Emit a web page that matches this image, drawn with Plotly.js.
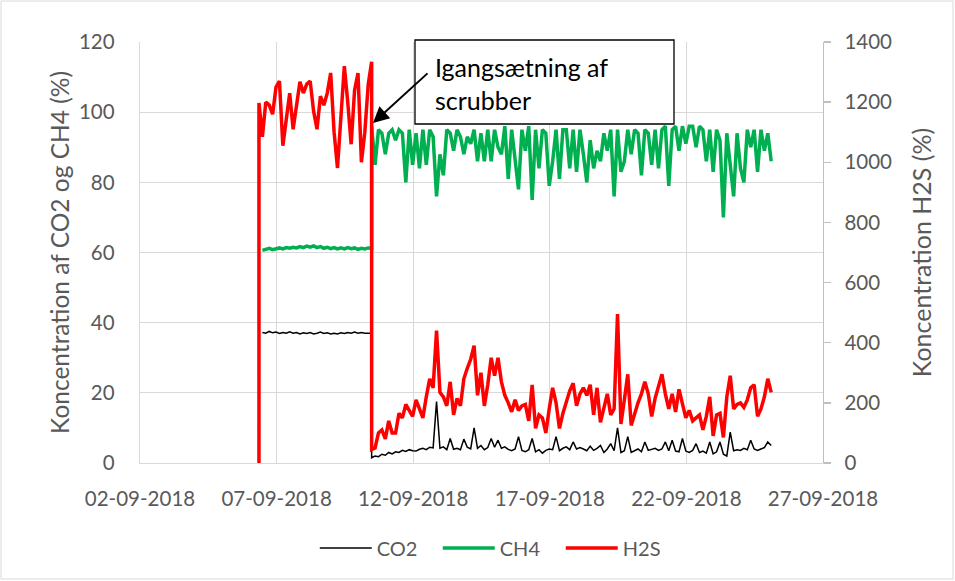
<!DOCTYPE html>
<html>
<head>
<meta charset="utf-8">
<script src="https://cdn.plot.ly/plotly-3.0.1.min.js"></script>
<style>html,body{margin:0;padding:0;background:#fff;}#chart{width:955px;height:581px;}</style>
</head>
<body>
<div id="chart"></div>
<script>
// ---- Data ----
const seriesNames = ["CO2", "CH4", "H2S"];
const xTickStart = "2018-09-02";
const xRange = ["2018-09-02", "2018-09-27"];

// Phase 1 (before scrubber start), 3-hour steps
const h2sStart1 = "2018-09-06 08:30";
const gasStart1 = "2018-09-06 11:30";
const h2sPhase1 = [1197,1085,1200,1190,1160,1250,1270,1055,1150,1230,1110,1200,1268,1230,1260,1270,1170,1110,1220,1190,1230,1297,1100,981,1150,1320,1200,1060,1240,1297,1000,1100,1260,1334];
const ch4Phase1 = [60.6,60.9,61.2,60.8,61.0,61.3,61.0,61.4,61.2,61.5,61.3,61.7,61.4,61.8,61.5,61.9,61.4,61.7,61.2,61.5,61.1,61.4,61.0,61.3,61.0,61.4,61.1,61.3,60.9,61.2,61.0,61.3,61.2];
const co2Phase1 = [37.2,37.0,37.5,37.1,37.3,36.9,37.2,37.0,37.4,37.0,37.2,36.8,37.1,36.9,37.2,36.8,37.0,37.3,36.9,37.1,36.8,37.0,36.8,37.1,36.9,37.2,37.0,37.3,37.0,37.2,37.0,37.1,37.0];

// Phase 2 (after scrubber start), 3-hour steps
const start2 = "2018-09-10 11:30";
const h2sPhase2 = [45,50,100,110,80,140,100,100,165,150,
  195,175,155,210,180,150,220,280,250,440,
  235,220,190,270,160,215,190,280,315,345,
  390,225,300,190,260,350,290,350,270,225,
  200,170,210,175,190,195,140,260,115,160,
  150,100,180,250,200,115,165,205,240,265,
  190,230,250,225,260,160,250,135,180,230,
  160,180,495,130,210,295,125,165,200,230,
  270,230,155,215,260,295,230,180,230,170,
  245,200,150,175,140,150,160,110,155,220,
  90,160,165,85,220,290,180,195,200,185,
  210,250,260,155,180,220,280,235];
const ch4Phase2 = [96,85,95,94,88,94,95,92,95,94,
  80,95,85,94,84,95,85,95,93,76,
  88,82,95,94,89,95,93,88,93,91,
  95,86,94,86,95,86,95,90,88,96,
  81,95,87,78,95,89,96,75,95,84,
  95,94,79,86,95,81,95,95,84,95,
  83,95,88,80,92,84,89,86,94,89,
  95,76,95,83,86,95,88,95,94,82,
  95,94,85,95,84,95,96,79,95,96,
  89,96,91,96,96,90,96,95,86,95,
  83,95,92,70,94,84,76,94,84,80,
  95,90,95,83,95,89,94,86];
const co2Phase2 = [1.5,2.0,1.8,2.5,2.2,3.0,2.6,3.2,3.0,3.6,
  3.3,3.8,3.5,3.4,3.9,4.2,3.8,4.5,4.3,17.5,
  4.2,4.6,3.8,7.0,3.9,4.2,3.8,6.8,4.5,4.0,
  10.0,4.2,5.0,3.8,4.4,7.0,4.5,6.5,4.2,4.6,
  3.9,3.5,4.0,7.5,3.6,3.2,3.8,7.0,3.2,3.8,
  2.8,3.6,4.0,3.8,7.5,3.5,4.2,4.6,3.8,6.0,
  4.0,4.4,4.0,3.5,4.8,3.6,4.2,5.0,3.0,4.0,
  5.5,3.5,10.0,3.0,3.5,7.5,3.0,3.5,4.0,3.2,
  6.0,3.6,3.8,4.2,3.6,4.0,6.0,3.5,6.5,3.4,
  3.2,7.0,3.4,3.0,3.6,5.5,3.0,3.4,2.8,6.0,
  2.6,3.2,6.0,2.5,2.0,8.8,3.5,3.8,3.6,4.2,
  3.8,6.5,4.0,3.6,4.0,4.4,6.0,5.0];

const stepHours = 3;
const annotationText = "Igangsætning af<br>scrubber";
const leftTitle = "Koncentration af CO2 og CH4 (%)";
const rightTitle = "Koncentration H2S (%)";

// ---- helpers ----
function pad(n){return (n<10?"0":"")+n;}
function times(start, step, n){
  const [d,t] = start.split(" ");
  const [Y,M,D] = d.split("-").map(Number);
  const [h,m] = t.split(":").map(Number);
  const base = Date.UTC(Y,M-1,D,h,m);
  const out = [];
  for(let i=0;i<n;i++){
    const dt = new Date(base + i*step*3600000);
    out.push(dt.getUTCFullYear()+"-"+pad(dt.getUTCMonth()+1)+"-"+pad(dt.getUTCDate())+" "+pad(dt.getUTCHours())+":"+pad(dt.getUTCMinutes()));
  }
  return out;
}

const t2 = times(start2, stepHours, h2sPhase2.length);
const tGas1 = times(gasStart1, stepHours, co2Phase1.length);
const tH2s1 = times(h2sStart1, stepHours, h2sPhase1.length);

const FONT = "Lato, 'Open Sans', sans-serif";
const GRAY = "#595959";

const traces = [
  {name: seriesNames[0], x: tGas1.concat(t2), y: co2Phase1.concat(co2Phase2), type:"scatter", mode:"lines",
   line:{color:"#000000", width:1.5}, yaxis:"y"},
  {name: seriesNames[1], x: tGas1.concat(t2), y: ch4Phase1.concat(ch4Phase2), type:"scatter", mode:"lines",
   line:{color:"#00B050", width:3.5}, yaxis:"y"},
  {name: seriesNames[2], x: [tH2s1[0]].concat(tH2s1, t2), y: [0].concat(h2sPhase1, h2sPhase2), type:"scatter", mode:"lines",
   line:{color:"#FF0000", width:3.5}, yaxis:"y2"}
];

const layout = {
  width:955, height:581,
  margin:{l:140, r:132, t:42, b:118},
  paper_bgcolor:"#ffffff", plot_bgcolor:"#ffffff",
  font:{family:FONT, size:20, color:GRAY},
  showlegend:true,
  legend:{orientation:"h", x:0.526, xanchor:"center", y:-0.202, yanchor:"middle",
          font:{family:FONT, size:20, color:GRAY}, itemwidth:52, entrywidth:56, traceorder:"normal"},
  xaxis:{type:"date", range:xRange, tick0:xTickStart, dtick:5*86400000, tickformat:"%d-%m-%Y",
         showgrid:true, gridcolor:"#D9D9D9", gridwidth:1.3, showline:true, linecolor:"#D9D9D9", linewidth:1.3,
         zeroline:false, ticks:"", ticklabelstandoff:17, tickfont:{family:FONT, size:20.5, color:GRAY}},
  yaxis:{range:[0,120], dtick:20, showgrid:true, gridcolor:"#D9D9D9", gridwidth:1.3, showline:true,
         linecolor:"#D9D9D9", linewidth:1.3, zeroline:false, ticks:"", ticklabelstandoff:20,
         tickfont:{family:FONT, size:20.5, color:GRAY},
         title:{text:leftTitle, font:{family:FONT, size:24.5, color:GRAY}, standoff:2}},
  yaxis2:{range:[0,1400], dtick:200, overlaying:"y", side:"right", showgrid:false, showline:true,
          linecolor:"#BFBFBF", linewidth:1.3, zeroline:false, ticks:"outside", ticklen:7, tickcolor:"#BFBFBF",
          tickwidth:1.3, ticklabelstandoff:9, tickfont:{family:FONT, size:20.5, color:GRAY},
          title:{text:rightTitle, font:{family:FONT, size:25, color:GRAY}, standoff:22}},
  shapes:[
    {type:"rect", xref:"paper", yref:"paper", x0:(1-140)/683, x1:(953-140)/683, y0:(463-579)/421, y1:(463-1)/421,
     line:{color:"#D9D9D9", width:1}, fillcolor:"rgba(0,0,0,0)", layer:"below"},
    {type:"rect", xref:"paper", yref:"paper", x0:(415-140)/683, x1:(674-140)/683, y0:(463-124)/421, y1:(463-40)/421,
     line:{color:"#000000", width:1.3}, fillcolor:"#ffffff", layer:"above"}
  ],
  annotations:[
    {xref:"paper", yref:"paper", x:(433-140)/683, y:(463-50)/421, xanchor:"left", yanchor:"top", align:"left",
     text:annotationText, showarrow:false, font:{family:FONT, size:25, color:"#000000"}},
    {xref:"paper", yref:"paper", x:(373-140)/683, y:(463-123)/421, text:"", showarrow:true,
     ax:56, ay:-51, arrowhead:2, arrowsize:1.6, arrowwidth:2, arrowcolor:"#000000", standoff:0}
  ]
};

Plotly.newPlot("chart", traces, layout, {displayModeBar:false, staticPlot:true});
</script>
</body>
</html>
